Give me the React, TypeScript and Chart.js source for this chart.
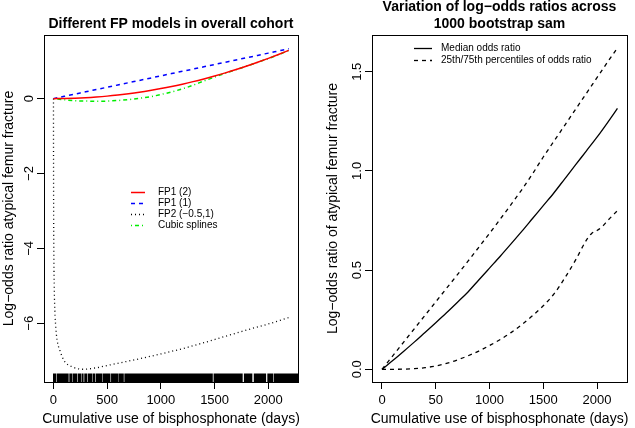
import React, { useEffect, useRef } from "react";
import { Chart, registerables } from "chart.js";
Chart.register(...registerables);

const FONT = '"Liberation Sans", Arial, Helvetica, sans-serif';

// ---------- Left panel data ----------
const fpDays = [0, 100, 200, 300, 400, 500, 600, 700, 800, 900, 1000, 1100, 1200, 1300, 1400, 1500, 1600, 1700, 1800, 1900, 2000, 2100, 2190];
const fp1Power2 = [0, 0.003, 0.011, 0.024, 0.043, 0.067, 0.097, 0.132, 0.172, 0.218, 0.269, 0.325, 0.387, 0.454, 0.527, 0.605, 0.688, 0.777, 0.871, 0.971, 1.076, 1.186, 1.29];
const fp1Power1 = [0, 0.061, 0.122, 0.182, 0.243, 0.304, 0.365, 0.426, 0.486, 0.547, 0.608, 0.669, 0.73, 0.79, 0.851, 0.912, 0.973, 1.034, 1.094, 1.155, 1.216, 1.277, 1.332];
const cubicSpline = [0, -0.03, -0.055, -0.065, -0.07, -0.065, -0.05, -0.025, 0.01, 0.05, 0.11, 0.18, 0.26, 0.36, 0.47, 0.575, 0.68, 0.775, 0.87, 0.97, 1.07, 1.18, 1.29];
const fp2Days = [1, 2, 3, 5, 8, 12, 20, 35, 60, 100, 180, 280, 400, 500, 600, 800, 1000, 1200, 1400, 1600, 1800, 2000, 2190];
const fp2Values = [0, -2.2, -3.2, -4.3, -5.0, -5.5, -6.0, -6.45, -6.72, -7.0, -7.17, -7.23, -7.19, -7.13, -7.07, -6.95, -6.82, -6.68, -6.52, -6.35, -6.18, -6.02, -5.85];
const rugDays = [
  6, 12, 19, 43, 49, 64, 70, 86, 92, 110, 118, 125, 133, 158, 165, 188, 195, 203, 211, 235, 243, 249, 272, 297, 304,
  328, 336, 344, 352, 375, 382, 406, 414, 422, 430, 438, 445, 468, 476, 484, 492, 500, 508, 516, 522, 546, 554, 562,
  570, 578, 586, 592, 614, 622, 630, 638, 646, 670, 678, 686, 694,
  704, 716, 728, 740, 752, 764, 776, 788, 800, 812, 824, 836, 848, 860, 872, 884, 896, 908, 920, 932, 944, 956, 968,
  980, 992, 1004, 1016, 1028, 1040, 1052, 1064, 1076, 1088, 1100, 1112, 1124, 1136, 1148, 1160, 1172, 1184, 1196,
  1208, 1220, 1232, 1244, 1256, 1268, 1280, 1292, 1304, 1316, 1328, 1340, 1352, 1364, 1376, 1388, 1402, 1414, 1426,
  1438, 1450, 1462, 1474, 1500, 1512, 1524, 1536, 1548, 1560, 1572, 1584, 1596, 1608, 1620, 1632, 1644, 1656, 1668,
  1680, 1692, 1704, 1716, 1728, 1740, 1752, 1782, 1794, 1806, 1818, 1830, 1842, 1874, 1886, 1898, 1910, 1922, 1934,
  1946, 1958, 1970, 2000, 2012, 2024, 2036, 2060, 2072, 2084, 2096, 2108, 2120, 2132, 2144, 2156, 2168, 2180, 2192,
  2204, 2216, 2228, 2240, 2252, 2264, 2273,
];
const leftYTicks = [0, -2, -4, -6];
const leftYTickLabels = ["0", "\u22122", "\u22124", "\u22126"];
const xTicks = [0, 500, 1000, 1500, 2000];
const leftXTickLabels = ["0", "500", "1000", "1500", "2000"];
const leftLegend = ["FP1 (2)", "FP1 (1)", "FP2 (\u22120.5,1)", "Cubic splines"];

// ---------- Right panel data ----------
const bootDays = [0, 100, 200, 300, 400, 500, 600, 700, 800, 900, 1000, 1100, 1200, 1300, 1400, 1500, 1600, 1700, 1800, 1900, 2000, 2100, 2190];
const medianOR = [0, 0.044, 0.09, 0.137, 0.186, 0.235, 0.285, 0.337, 0.39, 0.45, 0.51, 0.57, 0.632, 0.695, 0.76, 0.825, 0.89, 0.96, 1.03, 1.1, 1.17, 1.245, 1.315];
const upperOR = [0, 0.068, 0.136, 0.204, 0.272, 0.34, 0.408, 0.476, 0.545, 0.615, 0.685, 0.757, 0.83, 0.905, 0.985, 1.07, 1.15, 1.23, 1.31, 1.39, 1.47, 1.55, 1.62];
const lowerDays = [0, 100, 200, 300, 400, 500, 600, 700, 800, 900, 1000, 1100, 1200, 1300, 1400, 1500, 1600, 1700, 1800, 1900, 1950, 2000, 2050, 2100, 2190];
const lowerOR = [0, 0.0, 0.001, 0.003, 0.008, 0.017, 0.03, 0.047, 0.068, 0.092, 0.12, 0.15, 0.185, 0.225, 0.27, 0.32, 0.38, 0.46, 0.55, 0.65, 0.685, 0.7, 0.72, 0.75, 0.8];
const rightYTicks = [0, 0.5, 1.0, 1.5];
const rightYTickLabels = ["0.0", "0.5", "1.0", "1.5"];
const rightXTickLabels = ["0", "50", "1000", "1500", "2000"];
const rightLegend = ["Median odds ratio", "25th/75th percentiles of odds ratio"];

const pts = (xs: number[], ys: number[]) => xs.map((x, i) => ({ x, y: ys[i] }));

type Deco = {
  title: string[];
  titleY: number[];
  xTitle: string;
  yTitle: string;
  yTitleX: number;
  yTicks: number[];
  yLabels: string[];
  yLabelOffset: number;
  legend: { ds: number; text: string }[];
  legendX1: number;
  legendX2: number;
  legendTextX: number;
  legendY: number[];
  rug?: number[];
};

function rDecor(d: Deco) {
  return {
    id: "rdecor",
    afterDraw(chart: any) {
      const ctx = chart.ctx as CanvasRenderingContext2D;
      const a = chart.chartArea;
      const xs = chart.scales.x;
      const ys = chart.scales.y;
      ctx.save();
      // rug
      if (d.rug) {
        ctx.strokeStyle = "#000";
        ctx.lineWidth = 2;
        ctx.beginPath();
        d.rug.forEach((v) => {
          const px = xs.getPixelForValue(v);
          ctx.moveTo(px, a.bottom);
          ctx.lineTo(px, a.bottom - 8.5);
        });
        ctx.stroke();
      }
      // box
      ctx.strokeStyle = "#000";
      ctx.lineWidth = 1;
      ctx.setLineDash([]);
      ctx.strokeRect(Math.round(a.left) + 0.5, Math.round(a.top) + 0.5, Math.round(a.right - a.left), Math.round(a.bottom - a.top));
      // y tick labels (rotated, R style)
      ctx.fillStyle = "#000";
      ctx.font = `13px ${FONT}`;
      ctx.textAlign = "center";
      ctx.textBaseline = "middle";
      d.yTicks.forEach((v, i) => {
        const py = ys.getPixelForValue(v);
        ctx.save();
        ctx.translate(a.left - d.yLabelOffset, py);
        ctx.rotate(-Math.PI / 2);
        ctx.fillText(d.yLabels[i], 0, 0);
        ctx.restore();
      });
      // axis titles
      ctx.font = `14px ${FONT}`;
      const cx = (a.left + a.right) / 2;
      const cy = (a.top + a.bottom) / 2;
      ctx.fillText(d.xTitle, cx, 419);
      ctx.save();
      ctx.translate(d.yTitleX, cy);
      ctx.rotate(-Math.PI / 2);
      ctx.fillText(d.yTitle, 0, 0);
      ctx.restore();
      // main title
      ctx.font = `bold 14px ${FONT}`;
      d.title.forEach((t, i) => ctx.fillText(t, cx, d.titleY[i]));
      // legend
      ctx.font = `10px ${FONT}`;
      ctx.textAlign = "left";
      d.legend.forEach((item, i) => {
        const ds = chart.data.datasets[item.ds];
        const y = d.legendY[i];
        ctx.save();
        ctx.strokeStyle = ds.borderColor;
        ctx.lineWidth = ds.borderWidth;
        ctx.setLineDash(ds.borderDash || []);
        ctx.beginPath();
        ctx.moveTo(d.legendX1, y);
        ctx.lineTo(d.legendX2, y);
        ctx.stroke();
        ctx.restore();
        ctx.fillStyle = "#000";
        ctx.fillText(item.text, d.legendTextX, y);
      });
      ctx.restore();
    },
  };
}

function makeScales(xMin: number, xMax: number, yMin: number, yMax: number, yWidth: number, xLabels: string[], yTickVals: number[]) {
  return {
    x: {
      type: "linear",
      min: xMin,
      max: xMax,
      afterBuildTicks: (s: any) => {
        s.ticks = xTicks.map((v) => ({ value: v }));
      },
      afterFit: (s: any) => {
        s.height = 46;
      },
      ticks: {
        color: "#000",
        font: { family: FONT, size: 13 },
        padding: 4,
        maxRotation: 0,
        autoSkip: false,
        callback: (v: number) => xLabels[xTicks.indexOf(v)] ?? "",
      },
      grid: { drawOnChartArea: false, drawTicks: true, tickLength: 7, color: "#000", lineWidth: 1 },
      border: { display: false },
    },
    y: {
      type: "linear",
      min: yMin,
      max: yMax,
      afterBuildTicks: (s: any) => {
        s.ticks = yTickVals.map((v) => ({ value: v }));
      },
      afterFit: (s: any) => {
        s.width = yWidth;
      },
      ticks: { display: false },
      grid: { drawOnChartArea: false, drawTicks: true, tickLength: 7, color: "#000", lineWidth: 1 },
      border: { display: false },
    },
  };
}

function useChart(ref: React.RefObject<HTMLCanvasElement>, build: () => any) {
  useEffect(() => {
    if (!ref.current) return;
    const c = new Chart(ref.current, build());
    return () => c.destroy();
  }, []);
}

export default function App() {
  const leftRef = useRef<HTMLCanvasElement>(null);
  const rightRef = useRef<HTMLCanvasElement>(null);

  useChart(leftRef, () => ({
    type: "scatter",
    data: {
      datasets: [
        { data: pts(fpDays, fp1Power2), borderColor: "#ff0000", borderWidth: 1.5, borderDash: [] },
        { data: pts(fpDays, fp1Power1), borderColor: "#0000ff", borderWidth: 1.5, borderDash: [4, 4] },
        { data: pts(fp2Days, fp2Values), borderColor: "#000000", borderWidth: 1.3, borderDash: [1, 3] },
        { data: pts(fpDays, cubicSpline), borderColor: "#00ee00", borderWidth: 1.5, borderDash: [1, 3, 4, 3] },
      ].map((d) => ({ ...d, showLine: true, pointRadius: 0, cubicInterpolationMode: "monotone", fill: false })),
    },
    options: {
      responsive: false,
      animation: false,
      devicePixelRatio: 1,
      layout: { padding: { top: 35, right: 19, left: 0, bottom: 0 } },
      plugins: { legend: { display: false }, title: { display: false }, tooltip: { enabled: false } },
      scales: makeScales(-87, 2276, -7.57, 1.7, 44, leftXTickLabels, leftYTicks),
    },
    plugins: [
      rDecor({
        title: ["Different FP models in overall cohort"],
        titleY: [24],
        xTitle: "Cumulative use of bisphosphonate (days)",
        yTitle: "Log\u2212odds ratio atypical femur fracture",
        yTitleX: 9,
        yTicks: leftYTicks,
        yLabels: leftYTickLabels,
        yLabelOffset: 15,
        legend: leftLegend.map((t, i) => ({ ds: i, text: t })),
        legendX1: 131,
        legendX2: 145,
        legendTextX: 158,
        legendY: [192.5, 203.5, 214.5, 225.5],
        rug: rugDays,
      }),
    ],
  }));

  useChart(rightRef, () => ({
    type: "scatter",
    data: {
      datasets: [
        { data: pts(bootDays, medianOR), borderColor: "#000000", borderWidth: 1.3, borderDash: [] },
        { data: pts(bootDays, upperOR), borderColor: "#000000", borderWidth: 1.3, borderDash: [4, 4] },
        { data: pts(lowerDays, lowerOR), borderColor: "#000000", borderWidth: 1.3, borderDash: [4, 4] },
      ].map((d) => ({ ...d, showLine: true, pointRadius: 0, cubicInterpolationMode: "monotone", fill: false })),
    },
    options: {
      responsive: false,
      animation: false,
      devicePixelRatio: 1,
      layout: { padding: { top: 35, right: 8, left: 0, bottom: 0 } },
      plugins: { legend: { display: false }, title: { display: false }, tooltip: { enabled: false } },
      scales: makeScales(-93, 2279, -0.064, 1.685, 55, rightXTickLabels, rightYTicks),
    },
    plugins: [
      rDecor({
        title: ["Variation of log\u2212odds ratios across", "1000 bootstrap sam"],
        titleY: [7, 24],
        xTitle: "Cumulative use of bisphosphonate (days)",
        yTitle: "Log\u2212odds ratio of atypical femur fracture",
        yTitleX: 16,
        yTicks: rightYTicks,
        yLabels: rightYTickLabels,
        yLabelOffset: 15,
        legend: [
          { ds: 0, text: rightLegend[0] },
          { ds: 1, text: rightLegend[1] },
        ],
        legendX1: 97,
        legendX2: 115,
        legendTextX: 124,
        legendY: [48.5, 60.5],
      }),
    ],
  }));

  return (
    <div style={{ position: "absolute", left: 0, top: 0, width: 635, height: 428, background: "#fff", overflow: "hidden" }}>
      <canvas ref={leftRef} width={317} height={428} style={{ position: "absolute", left: 0, top: 0 }} />
      <canvas ref={rightRef} width={318} height={428} style={{ position: "absolute", left: 317, top: 0 }} />
    </div>
  );
}
